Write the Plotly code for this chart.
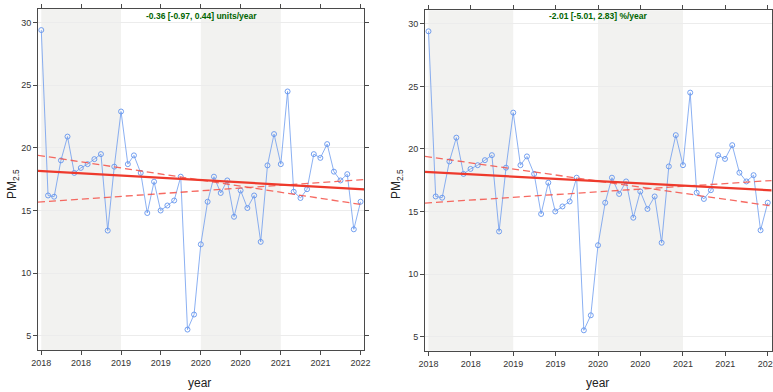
import plotly.graph_objects as go

# ---- data (monthly means) ----
dates = [f"{2018 + i // 12}-{i % 12 + 1:02d}-01" for i in range(49)]
pm25 = [29.4, 16.2, 16.1, 19.0, 20.9, 18.0, 18.4, 18.7, 19.1, 19.5, 13.4, 18.5,
        22.9, 18.7, 19.4, 18.0, 14.8, 17.3, 15.0, 15.4, 15.8, 17.7, 5.5, 6.7,
        12.3, 15.7, 17.7, 16.4, 17.4, 14.5, 16.6, 15.2, 16.2, 12.5, 18.6, 21.1,
        18.7, 24.5, 16.5, 16.0, 16.7, 19.5, 19.2, 20.3, 18.1, 17.4, 17.9, 13.5,
        15.7]

# Theil-Sen trend estimates (value at start of 2018, slopes per year)
trend_intercept = 18.15
trend_slope = -0.36
ci_low_intercept = 19.37
ci_low_slope = -0.97
ci_high_intercept = 15.69
ci_high_slope = 0.44

panel_labels = ["-0.36 [-0.97, 0.44] units/year", "-2.01 [-5.01, 2.83] %/year"]

tick_dates = ["2018-01-01", "2018-07-02", "2019-01-01", "2019-07-02", "2020-01-01",
              "2020-07-01", "2021-01-01", "2021-07-02", "2022-01-01"]
tick_text = ["2018", "2018", "2019", "2019", "2020", "2020", "2021", "2021", "2022"]
y_ticks = [5, 10, 15, 20, 25, 30]
shaded_years = [("2018-01-01", "2019-01-01"), ("2020-01-01", "2021-01-01")]

x_range = ["2017-12-17", "2022-01-18"]
x_range_dec = [2017.96, 2022.05]
y_range = [3.87, 31.08]

W, H = 773, 392
FONT = "Liberation Sans Narrow, Arial Narrow, Liberation Sans, Arial, sans-serif"

fig = go.Figure()

def line_val(a, b, xd):
    return a + b * (xd - 2018.0)

panels = [
    dict(xd=[38, 364.3], yd=[9, 350], ax="", ytitle_x=13, xtitle_x=199),
    dict(xd=[425, 771.7], yd=[10.3, 350.7], ax="2", ytitle_x=397, xtitle_x=597),
]

shapes = []
annotations = []
for k, p in enumerate(panels):
    xa, ya = "x" + p["ax"], "y" + p["ax"]
    fig.add_trace(go.Scatter(
        x=dates, y=pm25, xaxis=xa, yaxis=ya, mode="lines+markers",
        line=dict(color="rgba(100,149,237,0.75)", width=1),
        marker=dict(symbol="circle-open", size=5, color="rgba(100,149,237,0.9)",
                    line=dict(width=1, color="rgba(100,149,237,0.9)")),
        showlegend=False, hoverinfo="skip"))
    for a, b, dash, w, col in [
        (ci_low_intercept, ci_low_slope, "7px,4px", 1.3, "rgba(245,80,70,0.85)"),
        (ci_high_intercept, ci_high_slope, "7px,4px", 1.3, "rgba(245,80,70,0.85)"),
        (trend_intercept, trend_slope, "solid", 2.2, "#ee3a2c"),
    ]:
        fig.add_trace(go.Scatter(
            x=x_range, y=[line_val(a, b, x_range_dec[0]), line_val(a, b, x_range_dec[1])],
            xaxis=xa, yaxis=ya, mode="lines",
            line=dict(color=col, width=w, dash=dash),
            showlegend=False, hoverinfo="skip"))
    for s0, s1 in shaded_years:
        shapes.append(dict(type="rect", xref=xa, yref=ya + " domain", x0=s0, x1=s1,
                           y0=0, y1=1, fillcolor="#f2f2f0", line=dict(width=0),
                           layer="below"))
    axis_common = dict(showline=True, linecolor="#4a4a4a", linewidth=1, mirror="ticks",
                       ticks="outside", tickcolor="#4a4a4a", ticklen=4, automargin=False,
                       tickfont=dict(family=FONT, size=9, color="#333"))
    fig.update_layout(**{
        "xaxis" + p["ax"]: dict(domain=[p["xd"][0] / W, p["xd"][1] / W], anchor=ya,
                                type="date", range=x_range, tickvals=tick_dates,
                                ticktext=tick_text, showgrid=False, zeroline=False,
                                ticklabeloverflow="allow", **axis_common),
        "yaxis" + p["ax"]: dict(domain=[1 - p["yd"][1] / H, 1 - p["yd"][0] / H], anchor=xa,
                                range=y_range, tickvals=y_ticks, showgrid=True,
                                gridcolor="#ececec", gridwidth=1, zeroline=False,
                                **axis_common),
    })
    cx = (p["xd"][0] + p["xd"][1]) / 2 / W
    annotations.append(dict(text="<b>" + panel_labels[k] + "</b>", xref="paper", yref="paper",
                            x=cx, y=1 - 16 / H, showarrow=False,
                            font=dict(family=FONT, size=8.5, color="darkgreen"),
                            xanchor="center", yanchor="middle"))
    annotations.append(dict(text="PM<sub>2.5</sub>", xref="paper", yref="paper",
                            x=p["ytitle_x"] / W, y=1 - 184 / H, showarrow=False,
                            textangle=-90, font=dict(family=FONT, size=12, color="#222"),
                            xanchor="center", yanchor="middle"))
    annotations.append(dict(text="year", xref="paper", yref="paper",
                            x=p["xtitle_x"] / W, y=1 - 383 / H, showarrow=False,
                            font=dict(family=FONT, size=12, color="#222"),
                            xanchor="center", yanchor="middle"))

fig.update_layout(width=W, height=H, margin=dict(l=0, r=0, t=0, b=0),
                  paper_bgcolor="white", plot_bgcolor="white",
                  shapes=shapes, annotations=annotations)

fig.write_html("out.html")
